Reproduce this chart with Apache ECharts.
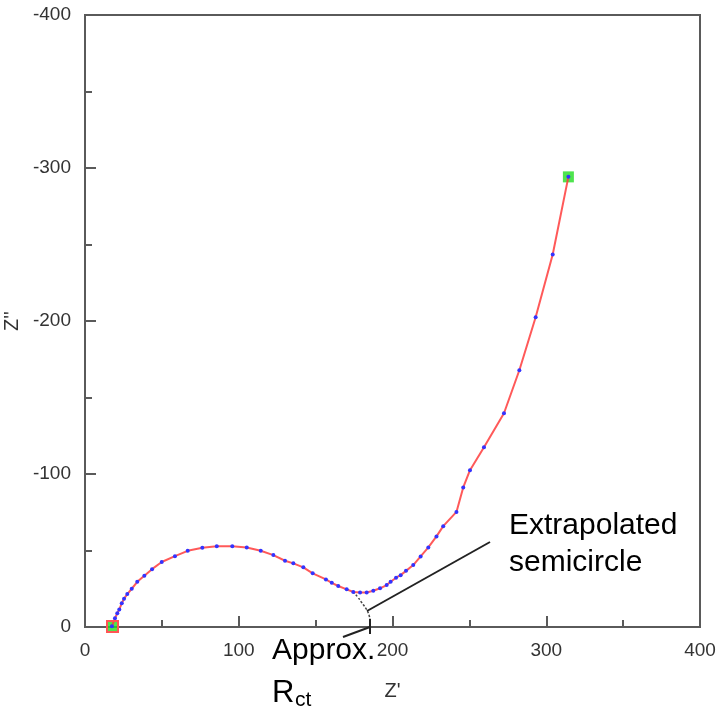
<!DOCTYPE html>
<html>
<head>
<meta charset="utf-8">
<script src="https://cdn.jsdelivr.net/npm/echarts@6/dist/echarts.min.js"></script>
<style>html,body{margin:0;padding:0;background:#fff}#c{width:718px;height:711px}</style>
</head>
<body>
<div id="c"></div>
<script>
// Measured impedance spectrum (Z' real, Z'' imaginary, ohm)
const zReal = [17.5, 19.5, 21.0, 22.3, 23.9, 25.4, 27.5, 30.4, 34.0, 38.6, 43.6, 49.9, 58.5, 66.8, 76.3, 85.7, 95.8, 105.2, 114.3, 122.5, 130.1, 135.5, 142.0, 148.1, 156.7, 160.5, 164.7, 170.2, 174.5, 178.9, 183.2, 187.5, 191.9, 196.2, 198.8, 202.3, 205.3, 208.8, 213.5, 218.3, 223.3, 228.6, 233.0, 241.6, 246.0, 250.4, 259.5, 272.5, 282.5, 293.1, 304.2, 314.4];
const zImag = [-0.5, -5.7, -9.0, -11.5, -15.5, -18.5, -21.5, -25.0, -29.5, -33.5, -37.8, -42.5, -46.3, -49.8, -51.8, -52.7, -52.7, -51.9, -49.8, -47.0, -43.3, -41.6, -39.0, -35.1, -31.1, -28.9, -26.8, -24.6, -22.9, -22.6, -22.6, -23.7, -25.3, -27.4, -29.6, -32.2, -33.9, -36.7, -40.5, -46.1, -52.0, -59.2, -65.9, -75.2, -91.2, -102.5, -117.5, -139.7, -167.8, -202.5, -243.5, -294.2];
// Extrapolated semicircle (dotted)
const arcReal = [174.5, 177.8, 179.6, 181.3, 182.8, 184.0, 184.8, 185.3, 185.4];
const arcImag = [-22.9, -19.0, -16.5, -14.2, -12.0, -9.8, -7.6, -4.5, 0];
// Start / end markers
const startPt = [17.5, -0.5];
const endPt = [314.4, -294.2];
// Axis ticks
const xTicks = [0, 100, 200, 300, 400];
const yTicks = [0, -100, -200, -300, -400];

const chart = echarts.init(document.getElementById('c'));
const font = '"Liberation Sans", Arial, sans-serif';
const axisCol = '#5a5a5a';
const lblCol = '#333';

const option = {
  animation: false,
  grid: { left: 85, right: 18, top: 15, bottom: 84, show: true, borderColor: axisCol, borderWidth: 2, backgroundColor: 'transparent', containLabel: false, outerBoundsMode: 'none' },
  xAxis: {
    type: 'value', min: xTicks[0], max: xTicks[xTicks.length - 1], interval: 100,
    name: "Z'", nameLocation: 'middle', nameGap: 54,
    nameTextStyle: { color: lblCol, fontSize: 20, fontFamily: font },
    axisLine: { show: true, onZero: false, lineStyle: { color: axisCol, width: 2 } },
    axisTick: { show: true, inside: true, length: 11, lineStyle: { color: axisCol, width: 2 } },
    minorTick: { show: true, splitNumber: 2, length: 7, lineStyle: { color: axisCol, width: 2 } },
    splitLine: { show: false },
    axisLabel: { color: lblCol, fontSize: 19, fontFamily: font, margin: 14 }
  },
  yAxis: {
    type: 'value', min: yTicks[yTicks.length - 1], max: yTicks[0], interval: 100, inverse: true,
    name: "Z''", nameLocation: 'middle', nameGap: 62, nameRotate: 90,
    nameTextStyle: { color: lblCol, fontSize: 20, fontFamily: font },
    axisLine: { show: true, onZero: false, lineStyle: { color: axisCol, width: 2 } },
    axisTick: { show: true, inside: true, length: 11, lineStyle: { color: axisCol, width: 2 } },
    minorTick: { show: true, splitNumber: 2, length: 7, lineStyle: { color: axisCol, width: 2 } },
    splitLine: { show: false },
    axisLabel: { color: lblCol, fontSize: 19, fontFamily: font, margin: 14 }
  },
  series: [
    {
      type: 'line', data: arcReal.map((x, i) => [x, arcImag[i]]),
      smooth: true, symbol: 'none',
      lineStyle: { color: '#444', width: 1.5, type: [2, 2] }, z: 2
    },
    {
      type: 'scatter', data: [startPt, endPt], symbol: 'rect', symbolSize: 11,
      itemStyle: { color: '#22dd22', borderColor: '#ff5555', borderWidth: 0 }, z: 3
    },
    {
      type: 'line', data: zReal.map((x, i) => [x, zImag[i]]),
      showAllSymbol: true, symbol: 'circle', symbolSize: 4,
      lineStyle: { color: 'rgba(255,60,60,0.85)', width: 2 },
      itemStyle: { color: '#3333ff', borderWidth: 0 }, z: 4
    }
  ],
  graphic: [
    { type: 'rect', shape: { x: 107, y: 621, width: 11, height: 11 }, style: { fill: 'none', stroke: '#ff5555', lineWidth: 2 }, z: 100 },
    { type: 'line', shape: { x1: 490, y1: 542, x2: 367, y2: 611 }, style: { stroke: '#222', lineWidth: 2 }, z: 100 },
    { type: 'line', shape: { x1: 343, y1: 637, x2: 370, y2: 627 }, style: { stroke: '#222', lineWidth: 2 }, z: 100 },
    { type: 'line', shape: { x1: 370, y1: 619, x2: 370, y2: 634 }, style: { stroke: '#222', lineWidth: 2 }, z: 100 },
    { type: 'text', left: 509, top: 511, style: { text: 'Extrapolated', font: '30px ' + font, fill: '#000' }, z: 100 },
    { type: 'text', left: 509, top: 548, style: { text: 'semicircle', font: '30px ' + font, fill: '#000' }, z: 100 },
    { type: 'text', left: 272, top: 636, style: { text: 'Approx.', font: '30px ' + font, fill: '#000' }, z: 100 },
    { type: 'text', left: 272, top: 678, style: { text: 'R', font: '31px ' + font, fill: '#000' }, z: 100 },
    { type: 'text', left: 295, top: 690, style: { text: 'ct', font: '21px ' + font, fill: '#000' }, z: 100 }
  ]
};
chart.setOption(option);
</script>
</body>
</html>
